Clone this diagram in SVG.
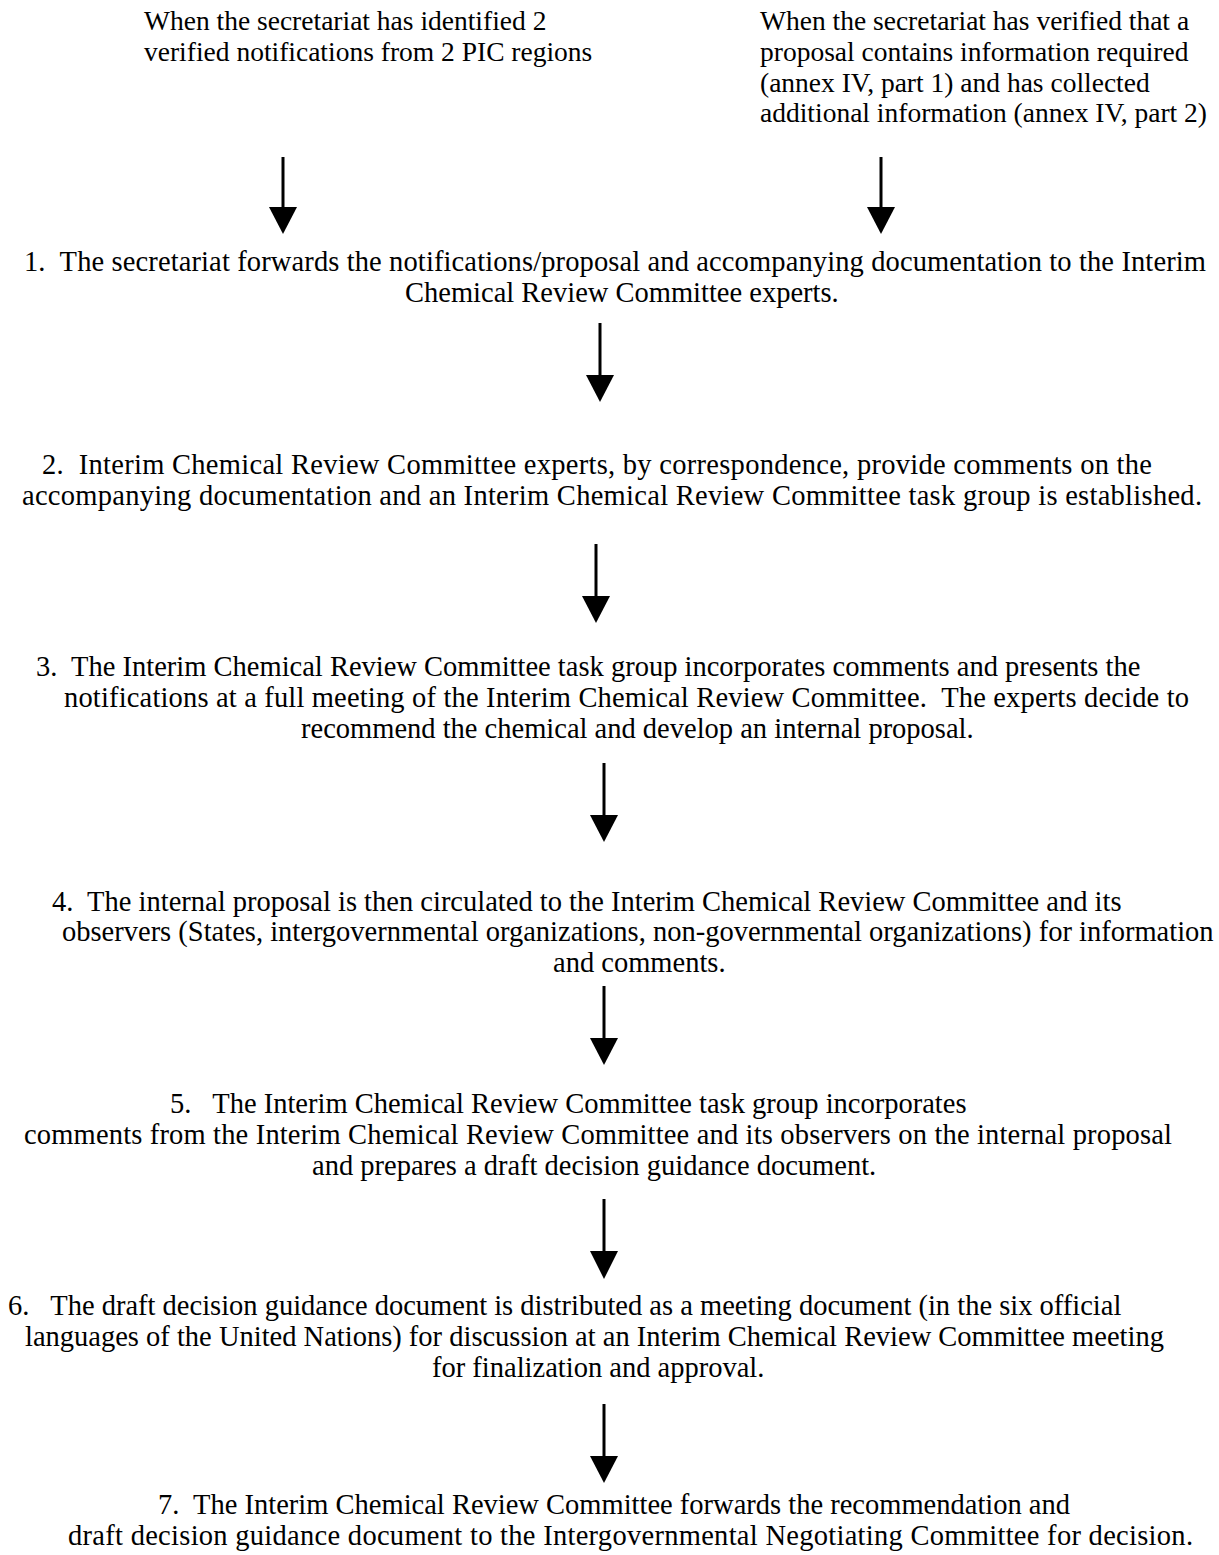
<svg xmlns="http://www.w3.org/2000/svg" width="1219" height="1555" viewBox="0 0 1219 1555">
<style>
text{font-family:"Liberation Serif","Times New Roman",serif;font-size:28.5px;fill:#000;white-space:pre}
.top{font-size:27.5px}
.ln{stroke:#000;stroke-width:3;fill:none}
.hd{fill:#000}
</style>
<rect width="1219" height="1555" fill="#fff"/>
<g id="cond-left">
<text class="top" x="144" y="30">When the secretariat has identified 2</text>
<text class="top" x="144" y="61">verified notifications from 2 PIC regions</text>
</g>
<g id="cond-right">
<text class="top" x="760" y="30">When the secretariat has verified that a</text>
<text class="top" x="760" y="61">proposal contains information required</text>
<text class="top" x="760" y="92">(annex IV, part 1) and has collected</text>
<text class="top" x="760" y="122">additional information (annex IV, part 2)</text>
</g>
<g id="step1">
<text x="24" y="271" textLength="1182">1.  The secretariat forwards the notifications/proposal and accompanying documentation to the Interim</text>
<text x="405" y="302">Chemical Review Committee experts.</text>
</g>
<g id="step2">
<text x="42" y="474" textLength="1110">2.  Interim Chemical Review Committee experts, by correspondence, provide comments on the</text>
<text x="22" y="505" textLength="1180">accompanying documentation and an Interim Chemical Review Committee task group is established.</text>
</g>
<g id="step3">
<text x="36" y="676">3.  The Interim Chemical Review Committee task group incorporates comments and presents the</text>
<text x="64" y="707" textLength="1125">notifications at a full meeting of the Interim Chemical Review Committee.  The experts decide to</text>
<text x="301" y="738">recommend the chemical and develop an internal proposal.</text>
</g>
<g id="step4">
<text x="52" y="911">4.  The internal proposal is then circulated to the Interim Chemical Review Committee and its</text>
<text x="62" y="941">observers (States, intergovernmental organizations, non-governmental organizations) for information</text>
<text x="553" y="972">and comments.</text>
</g>
<g id="step5">
<text x="170" y="1113">5.   The Interim Chemical Review Committee task group incorporates</text>
<text x="24" y="1144" textLength="1148">comments from the Interim Chemical Review Committee and its observers on the internal proposal</text>
<text x="312" y="1175">and prepares a draft decision guidance document.</text>
</g>
<g id="step6">
<text x="8" y="1315">6.   The draft decision guidance document is distributed as a meeting document (in the six official</text>
<text x="25" y="1346">languages of the United Nations) for discussion at an Interim Chemical Review Committee meeting</text>
<text x="432" y="1377">for finalization and approval.</text>
</g>
<g id="step7">
<text x="158" y="1514">7.  The Interim Chemical Review Committee forwards the recommendation and</text>
<text x="68" y="1545" textLength="1125">draft decision guidance document to the Intergovernmental Negotiating Committee for decision.</text>
</g>
<g id="connectors">
<line class="ln" x1="283" y1="157" x2="283" y2="210"/><polygon class="hd" points="269,207 297,207 283,234"/>
<line class="ln" x1="881" y1="157" x2="881" y2="210"/><polygon class="hd" points="867,207 895,207 881,234"/>
<line class="ln" x1="600" y1="323" x2="600" y2="378"/><polygon class="hd" points="586,375 614,375 600,402"/>
<line class="ln" x1="596" y1="544" x2="596" y2="599"/><polygon class="hd" points="582,596 610,596 596,623"/>
<line class="ln" x1="604" y1="763" x2="604" y2="818"/><polygon class="hd" points="590,815 618,815 604,842"/>
<line class="ln" x1="604" y1="986" x2="604" y2="1041"/><polygon class="hd" points="590,1038 618,1038 604,1065"/>
<line class="ln" x1="604" y1="1199" x2="604" y2="1254"/><polygon class="hd" points="590,1251 618,1251 604,1279"/>
<line class="ln" x1="604" y1="1404" x2="604" y2="1459"/><polygon class="hd" points="590,1456 618,1456 604,1483"/>
</g>
</svg>
